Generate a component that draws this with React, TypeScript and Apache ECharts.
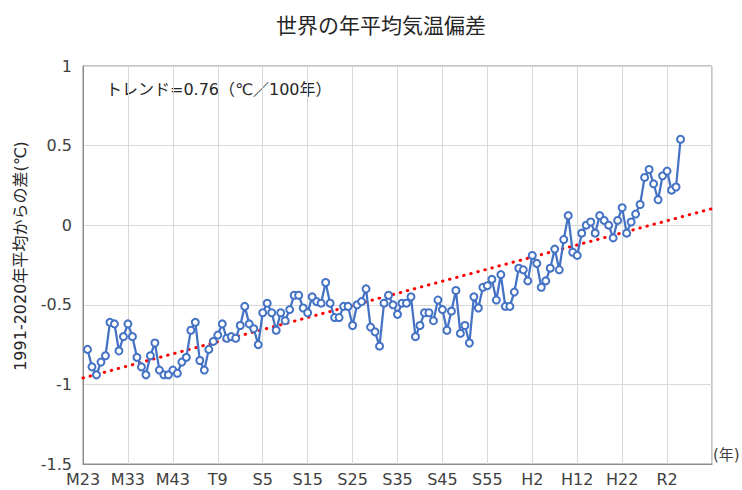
import React, { useEffect, useRef } from "react";
import * as echarts from "echarts";

const startYear = 1891;
const anomalies = [
  -0.78, -0.89, -0.94, -0.86, -0.82, -0.61, -0.62, -0.79, -0.70, -0.62,
  -0.70, -0.83, -0.89, -0.94, -0.82, -0.74, -0.91, -0.94, -0.94, -0.91,
  -0.93, -0.86, -0.83, -0.66, -0.61, -0.85, -0.91, -0.78, -0.73, -0.69,
  -0.62, -0.71, -0.70, -0.71, -0.63, -0.51, -0.62, -0.65, -0.75, -0.55,
  -0.49, -0.55, -0.66, -0.55, -0.60, -0.53, -0.44, -0.44, -0.52, -0.55,
  -0.45, -0.48, -0.49, -0.36, -0.49, -0.58, -0.58, -0.51, -0.51, -0.63,
  -0.50, -0.48, -0.40, -0.64, -0.67, -0.76, -0.49, -0.44, -0.50, -0.56,
  -0.49, -0.49, -0.45, -0.70, -0.63, -0.55, -0.55, -0.60, -0.47, -0.53,
  -0.66, -0.54, -0.41, -0.68, -0.63, -0.74, -0.45, -0.52, -0.39, -0.38,
  -0.34, -0.47, -0.31, -0.51, -0.51, -0.42, -0.27, -0.28, -0.35, -0.19,
  -0.24, -0.39, -0.35, -0.27, -0.15, -0.28, -0.09, 0.06, -0.17, -0.19,
  -0.05, 0.00, 0.02, -0.05, 0.06, 0.03, 0.00, -0.08, 0.03, 0.11,
  -0.05, 0.02, 0.07, 0.13, 0.30, 0.35, 0.26, 0.16, 0.31, 0.34,
  0.22, 0.24, 0.54,
];

const trendYears = [1890, 2030];
const trendValues = [-0.96, 0.104];

const tickYears = [1890, 1900, 1910, 1920, 1930, 1940, 1950, 1960, 1970, 1980, 1990, 2000, 2010, 2020];
const tickLabels = ["M23", "M33", "M43", "T9", "S5", "S15", "S25", "S35", "S45", "S55", "H2", "H12", "H22", "R2"];

const FONT = '"DejaVu Sans", "Noto Sans CJK JP", sans-serif';
const CJK = '"Noto Sans CJK JP", sans-serif';

export default function App() {
  const ref = useRef<HTMLDivElement>(null);
  useEffect(() => {
    document.body.style.margin = "0";
    if (!ref.current) return;
    const chart = echarts.init(ref.current, undefined, { renderer: "svg" });
    const data = anomalies.map((v, i) => [startYear + i, v]);
    const trend = trendYears.map((y, i) => [y, trendValues[i]]);
    chart.setOption({
      animation: false,
      textStyle: { fontFamily: FONT },
      grid: {
        left: 83,
        right: 30,
        top: 66,
        bottom: 26,
        show: true,
        borderColor: "#8c8c8c",
        borderWidth: 1,
      },
      xAxis: {
        type: "value",
        min: 1890,
        max: 2030,
        interval: 10,
        axisLine: { show: true, onZero: false, lineStyle: { color: "#8c8c8c" } },
        axisTick: { show: false },
        splitLine: { show: true, lineStyle: { color: "#d9d9d9", width: 1 } },
        axisLabel: {
          color: "#404040",
          fontSize: 16,
          fontFamily: FONT,
          margin: 7,
          formatter: (v: number) => {
            const idx = tickYears.indexOf(v);
            return idx >= 0 ? tickLabels[idx] : "";
          },
        },
      },
      yAxis: {
        type: "value",
        min: -1.5,
        max: 1,
        interval: 0.5,
        axisLine: { show: true, lineStyle: { color: "#8c8c8c" } },
        axisTick: { show: false },
        splitLine: { show: true, lineStyle: { color: "#d9d9d9", width: 1 } },
        axisLabel: { color: "#404040", fontSize: 16, fontFamily: FONT, margin: 11 },
      },
      graphic: [
        {
          type: "text",
          x: 381,
          y: 24,
          style: {
            text: "世界の年平均気温偏差",
            fontFamily: CJK,
            fontSize: 21,
            fill: "#262626",
            align: "center",
            verticalAlign: "middle",
          },
        },
        {
          type: "text",
          x: 20,
          y: 256,
          rotation: Math.PI / 2,
          style: {
            text: "1991-2020年平均からの差(℃)",
            fontFamily: FONT,
            fontSize: 16,
            fill: "#262626",
            align: "center",
            verticalAlign: "middle",
          },
        },
        {
          type: "text",
          x: 106,
          y: 89,
          style: {
            text: "トレンド=0.76（℃／100年）",
            fontFamily: FONT,
            fontSize: 16,
            fill: "#262626",
            align: "left",
            verticalAlign: "middle",
          },
        },
        {
          type: "text",
          x: 713,
          y: 455,
          style: {
            text: "(年)",
            fontFamily: FONT,
            fontSize: 15,
            fill: "#404040",
            align: "left",
            verticalAlign: "middle",
          },
        },
      ],
      series: [
        {
          type: "line",
          data: trend,
          symbol: "none",
          lineStyle: { color: "#ff0000", width: 3, type: [0.5, 6.8], cap: "round" },
          z: 2,
        },
        {
          type: "line",
          data,
          symbol: "circle",
          symbolSize: 7,
          lineStyle: { color: "#4472c4", width: 2.25 },
          itemStyle: { color: "#ffffff", borderColor: "#4472c4", borderWidth: 2 },
          z: 3,
        },
      ],
    });
    return () => chart.dispose();
  }, []);
  return <div ref={ref} style={{ width: 742, height: 490 }} />;
}
